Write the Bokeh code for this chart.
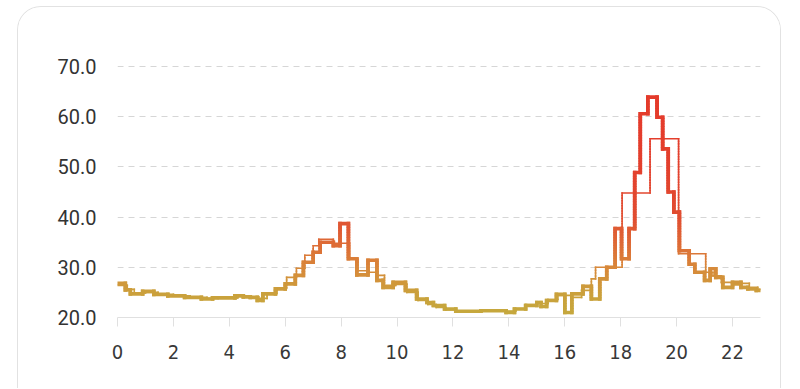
from bokeh.plotting import figure
from bokeh.models import ColumnDataSource, Range1d, FixedTicker, PrintfTickFormatter
from bokeh.embed import file_html
from bokeh.resources import INLINE

# ---- data: step start times (hours) and values ----
main_t = [0.00, 0.28, 0.46, 0.90, 1.30, 1.80, 2.40, 3.00, 3.40, 4.20, 4.50, 4.75,
          5.00, 5.20, 5.65, 6.00, 6.36, 6.65, 7.00, 7.25, 7.72, 7.96, 8.26, 8.56,
          8.96, 9.28, 9.50, 9.86, 10.30, 10.70, 11.07, 11.30, 11.70, 12.10, 13.00,
          13.90, 14.20, 14.60, 15.00, 15.15, 15.35, 15.70, 16.00, 16.25, 16.65,
          16.95, 17.25, 17.50, 17.80, 18.03, 18.30, 18.50, 18.70, 18.97, 19.30,
          19.50, 19.70, 19.90, 20.10, 20.45, 20.65, 21.00, 21.20, 21.40, 21.65,
          22.00, 22.30, 22.55, 22.85]
main_v = [26.8, 25.5, 24.7, 25.2, 24.6, 24.3, 24.0, 23.7, 23.9, 24.3, 24.1, 24.0,
          23.4, 24.7, 25.7, 26.7, 28.4, 31.0, 33.0, 35.0, 34.3, 38.7, 31.7, 28.5,
          31.4, 27.4, 26.0, 27.0, 25.4, 23.7, 23.0, 22.4, 21.7, 21.25, 21.35,
          21.0, 21.7, 22.4, 23.0, 22.2, 23.4, 24.6, 21.0, 24.7, 26.2,
          23.7, 27.7, 30.0, 37.7, 31.7, 37.7, 48.9, 60.6, 63.9, 59.9,
          53.6, 45.0, 41.0, 33.3, 30.6, 29.0, 27.4, 29.7, 28.0, 26.0,
          27.0, 26.0, 25.7, 25.4]

avg_t = [0.00, 0.35, 0.60, 1.00, 1.45, 2.00, 2.60, 3.20, 3.60, 4.30, 4.65, 5.05,
         5.35, 5.70, 6.05, 6.40, 6.70, 7.00, 7.20, 7.72, 8.30, 8.60, 9.00, 9.30,
         9.55, 9.95, 10.35, 10.75, 11.10, 11.40, 11.75, 12.10, 13.90, 14.25,
         14.60, 15.00, 15.40, 15.75, 16.25, 16.60, 16.95, 17.10, 18.05, 19.05,
         20.07, 21.04, 21.30, 21.60, 22.00, 22.30, 22.60, 22.90]
avg_v = [26.4, 25.6, 24.9, 25.0, 24.6, 24.3, 24.0, 23.8, 23.9, 24.3, 24.1, 23.8,
         24.8, 25.9, 28.0, 29.8, 32.4, 34.3, 35.6, 34.8, 31.6, 29.3, 29.0, 28.4,
         26.4, 26.6, 25.0, 23.4, 22.6, 22.0, 21.5, 21.3, 21.3, 21.8,
         22.6, 22.8, 23.6, 24.4, 24.0, 25.4, 27.7, 30.0, 44.8, 55.6,
         32.7, 29.0, 28.3, 27.0, 26.5, 26.8, 26.0, 25.6]

t_end = 23.0
x_ticks = [0, 2, 4, 6, 8, 10, 12, 14, 16, 18, 20, 22]
y_ticks = [20, 30, 40, 50, 60, 70]

# ---- colour gradient by value ----
stops = [(20, (0xC4, 0xAA, 0x3E)), (25, (0xCB, 0xA0, 0x3C)), (30, (0xD8, 0x88, 0x3A)),
         (35, (0xDE, 0x6A, 0x36)), (40, (0xE1, 0x4E, 0x31)), (50, (0xE3, 0x40, 0x2D)),
         (70, (0xE5, 0x38, 0x2A))]


def col(v):
    if v <= stops[0][0]:
        c = stops[0][1]
    elif v >= stops[-1][0]:
        c = stops[-1][1]
    else:
        for (a, ca), (b, cb) in zip(stops[:-1], stops[1:]):
            if a <= v <= b:
                f = (v - a) / (b - a)
                c = tuple(int(round(ca[k] + f * (cb[k] - ca[k]))) for k in range(3))
                break
    return "#%02x%02x%02x" % c


def step_source(t, v, end):
    x0, y0, x1, y1, cs = [], [], [], [], []
    n = len(t)
    for i in range(n):
        te = t[i + 1] if i + 1 < n else end
        x0.append(t[i]); x1.append(te); y0.append(v[i]); y1.append(v[i]); cs.append(col(v[i]))
    for i in range(1, n):
        a, b = v[i - 1], v[i]
        lo, hi = min(a, b), max(a, b)
        k = max(1, int((hi - lo) / 0.5))
        for j in range(k):
            s = lo + (hi - lo) * j / k
            e = lo + (hi - lo) * (j + 1) / k
            x0.append(t[i]); x1.append(t[i]); y0.append(s); y1.append(e); cs.append(col((s + e) / 2))
    return ColumnDataSource(dict(x0=x0, y0=y0, x1=x1, y1=y1, c=cs))


p = figure(width=764, height=382, x_range=Range1d(0, 23), y_range=Range1d(20, 70.4),
           output_backend="svg", toolbar_location=None,
           min_border_left=99, min_border_right=22, min_border_top=57, min_border_bottom=72,
           background_fill_color="white", border_fill_color="white",
           styles={"margin-left": "17px", "margin-top": "6px",
                   "border-radius": "24px 24px 0 0", "overflow": "hidden",
                   "border": "1px solid #e2e2e2", "border-bottom": "none"})
p.outline_line_color = None

p.segment("x0", "y0", "x1", "y1", source=step_source(main_t, main_v, t_end),
          line_color="c", line_width=3.6, line_cap="square")
p.segment("x0", "y0", "x1", "y1", source=step_source(avg_t, avg_v, t_end),
          line_color="c", line_width=1.6, line_cap="square")

# axes
p.xaxis.ticker = FixedTicker(ticks=x_ticks)
p.xaxis.axis_line_color = "#e0e0e0"
p.xaxis.major_tick_line_color = "#e0e0e0"
p.xaxis.major_tick_in = 0
p.xaxis.major_tick_out = 9
p.xaxis.minor_tick_line_color = None
p.xaxis.major_label_text_font = "'Liberation Sans Narrow', 'DejaVu Sans Condensed', Roboto"
p.xaxis.major_label_text_font_size = "20px"
p.xaxis.major_label_text_color = "#383838"
p.xaxis.major_label_standoff = 18

p.yaxis.ticker = FixedTicker(ticks=y_ticks)
p.yaxis.formatter = PrintfTickFormatter(format="%.1f")
p.yaxis.axis_line_color = None
p.yaxis.major_tick_line_color = None
p.yaxis.minor_tick_line_color = None
p.yaxis.major_label_text_font = "Roboto"
p.yaxis.major_label_text_font_size = "20px"
p.yaxis.major_label_text_color = "#333333"
p.yaxis.major_label_standoff = 15

p.xgrid.grid_line_color = None
p.ygrid.ticker = FixedTicker(ticks=[30, 40, 50, 60, 70])
p.ygrid.grid_line_color = "#d6d6d6"
p.ygrid.grid_line_dash = "6 5"
p.ygrid.grid_line_width = 1

html = file_html(p, INLINE)
html = html.replace("<body>", '<body style="margin:0;background:#f5f5f5;overflow:hidden;">', 1)
open("out.html", "w").write(html)
